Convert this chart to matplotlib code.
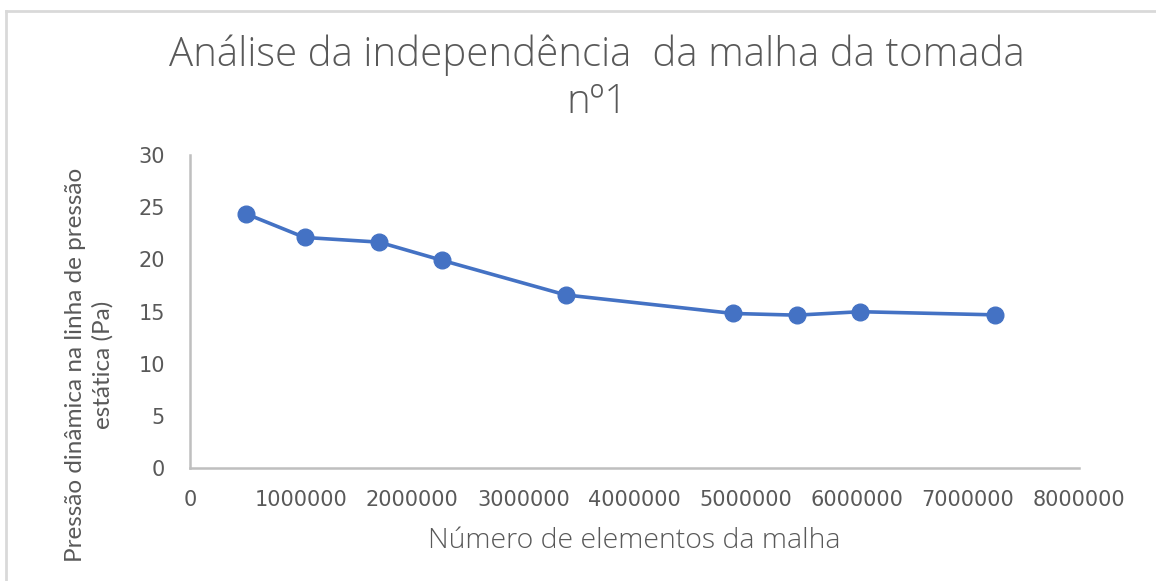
import matplotlib
matplotlib.use("Agg")
import matplotlib.pyplot as plt

# Mesh sizes and dynamic pressure on the static pressure line
n_elementos = [505000, 1030000, 1700000, 2270000, 3380000, 4890000, 5460000, 6030000, 7240000]
pressao_dinamica = [24.36, 22.1, 21.65, 19.9, 16.59, 14.81, 14.65, 14.98, 14.68]

x_ticks = [0, 1000000, 2000000, 3000000, 4000000, 5000000, 6000000, 7000000, 8000000]
y_ticks = [0, 5, 10, 15, 20, 25, 30]

titulo = "Análise da independência  da malha da tomada\nnº1"
rotulo_x = "Número de elementos da malha"
rotulo_y = "Pressão dinâmica na linha de pressão\nestática (Pa)"

plt.rcParams["font.family"] = ["DejaVu Sans"]

cinza_txt = "#595959"
cinza_eixo = "#bfbfbf"
azul = "#4472c4"

fig = plt.figure(figsize=(11.56, 5.81), dpi=100)
ax = fig.add_axes([0.1644, 0.1945, 0.769, 0.5387])

ax.plot(n_elementos, pressao_dinamica, color=azul, linewidth=2.6,
        marker="o", markersize=12, markerfacecolor=azul, markeredgecolor=azul)

ax.set_xlim(0, 8000000)
ax.set_ylim(0, 30)
ax.set_xticks(x_ticks)
ax.set_xticklabels([str(v) for v in x_ticks])
ax.set_yticks(y_ticks)
ax.tick_params(axis="both", length=0, colors=cinza_txt, labelsize=15)
ax.tick_params(axis="x", pad=16)
ax.tick_params(axis="y", pad=18)

for lado in ["top", "right"]:
    ax.spines[lado].set_visible(False)
for lado in ["left", "bottom"]:
    ax.spines[lado].set_color(cinza_eixo)
    ax.spines[lado].set_linewidth(1.8)

ax.set_xlabel(rotulo_x, fontsize=20.5, color=cinza_txt, labelpad=12,
              family=["Open Sans", "DejaVu Sans"], fontweight="light")
ax.set_ylabel(rotulo_y, fontsize=17.5, color=cinza_txt,
              linespacing=1.35, family=["Lato", "DejaVu Sans"])
# label block sits lower than the middle of the axis
ax.yaxis.set_label_coords(-0.086, 0.33)

fig.text(597 / 1156, 1 - 79 / 581, titulo, ha="center", va="center",
         fontsize=29, color=cinza_txt, linespacing=1.18,
         family=["Open Sans", "DejaVu Sans"], fontweight="light")

# light frame around the chart area
fig.add_artist(plt.Line2D([6 / 1156, 6 / 1156], [0, 1 - 11 / 581],
                          transform=fig.transFigure, color="#d9d9d9", linewidth=2))
fig.add_artist(plt.Line2D([6 / 1156, 1], [1 - 11 / 581, 1 - 11 / 581],
                          transform=fig.transFigure, color="#d9d9d9", linewidth=2))

fig.savefig("out.png", dpi=100)
